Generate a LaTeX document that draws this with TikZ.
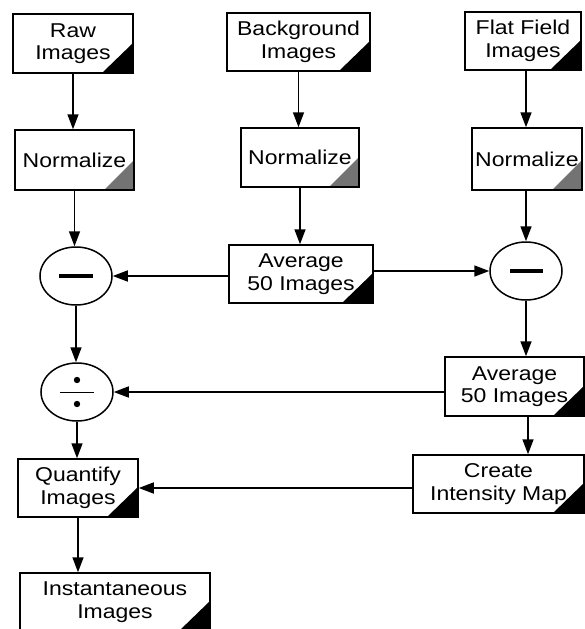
\documentclass[tikz,border=0pt]{standalone}
\usepackage{fontspec}
\setmainfont{Liberation Sans}[FakeStretch=1.15]
\usetikzlibrary{shapes.geometric,arrows.meta}
\begin{document}
\begin{tikzpicture}[x=1pt,y=-1pt,
 box/.style={draw, line width=1.5pt, align=center, inner sep=0pt, font=\fontsize{20}{22.5}\selectfont},
 blk/.style={path picture={\fill[black] (path picture bounding box.south east) -- ++(-31pt,0pt) -- ++(31pt,30pt) -- cycle;}},
 gry/.style={path picture={\fill[black!55] (path picture bounding box.south east) -- ++(-30pt,0pt) -- ++(30pt,30pt) -- cycle;}},
 op/.style={draw, ellipse, line width=1.5pt, minimum width=72pt, minimum height=58pt, inner sep=0pt},
 arr/.style={line width=1.6pt, -{Triangle[length=15pt,width=11pt]}},
 bar/.style={line width=3.5pt},
]
\useasboundingbox (0,0) rectangle (585,629);
% input boxes
\node[box,blk,minimum width=120pt,minimum height=59pt] (raw) at (73,43.5) {Raw\\Images};
\node[box,blk,minimum width=143pt,minimum height=58pt] (bg) at (298.5,42) {Background\\Images};
\node[box,blk,minimum width=116pt,minimum height=58pt] (ff) at (523,41) {Flat Field\\Images};
% normalize
\node[box,gry,minimum width=119pt,minimum height=60pt] (n1) at (74.5,160) {Normalize};
\node[box,gry,minimum width=118pt,minimum height=59pt] (n2) at (300,157.5) {Normalize};
\node[box,gry,minimum width=110pt,minimum height=62pt] (n3) at (527,159) {Normalize};
% operators
\node[op] (m1) at (76,276) {};
\node[op] (m2) at (526,271) {};
\node[op] (dv) at (77,392) {};
\draw[bar] ([xshift=-17pt]m1.center) -- ([xshift=17pt]m1.center);
\draw[bar] ([xshift=-16pt]m2.center) -- ([xshift=17pt]m2.center);
\draw[line width=1pt] ([xshift=-17pt]dv.center) -- ([xshift=17pt]dv.center);
\fill ([yshift=12pt]dv.center) circle (3.2pt);
\fill ([yshift=-12pt]dv.center) circle (3.2pt);
% average / processing
\node[box,blk,minimum width=144pt,minimum height=58pt] (avg1) at (301,274) {Average\\50 Images};
\node[box,blk,minimum width=139pt,minimum height=59pt] (avg2) at (514.5,386.5) {Average\\50 Images};
\node[box,blk,minimum width=171pt,minimum height=58pt] (create) at (498.5,484) {Create\\Intensity Map};
\node[box,blk,minimum width=120pt,minimum height=58pt] (quant) at (78,488) {Quantify\\Images};
\node[box,blk,minimum width=190pt,minimum height=58pt] (inst) at (115,602) {Instantaneous\\Images};
% connectors
\draw[arr] (raw.south) -- (raw.south |- n1.north);
\draw[arr] (n1.south) -- (n1.south |- m1.north);
\draw[arr] (m1.south) -- (m1.south |- dv.north);
\draw[arr] (dv.south) -- (dv.south |- quant.north);
\draw[arr] (quant.south) -- (quant.south |- inst.north);
\draw[arr] (bg.south) -- (bg.south |- n2.north);
\draw[arr] (n2.south) -- (n2.south |- avg1.north);
\draw[arr] (avg1.west |- m1.east) -- (m1.east);
\draw[arr] (avg1.east |- m2.west) -- (m2.west);
\draw[arr] (m2.north |- ff.south) -- (m2.north |- n3.north);
\draw[arr] (m2.north |- n3.south) -- (m2.north);
\draw[arr] (m2.south) -- (m2.south |- avg2.north);
\draw[arr] ([xshift=2pt]m2.south |- avg2.south) -- ([xshift=2pt]m2.south |- create.north);
\draw[arr] (avg2.west |- dv.east) -- (dv.east);
\draw[arr] (create.west |- quant.east) -- (quant.east);
\end{tikzpicture}
\end{document}
